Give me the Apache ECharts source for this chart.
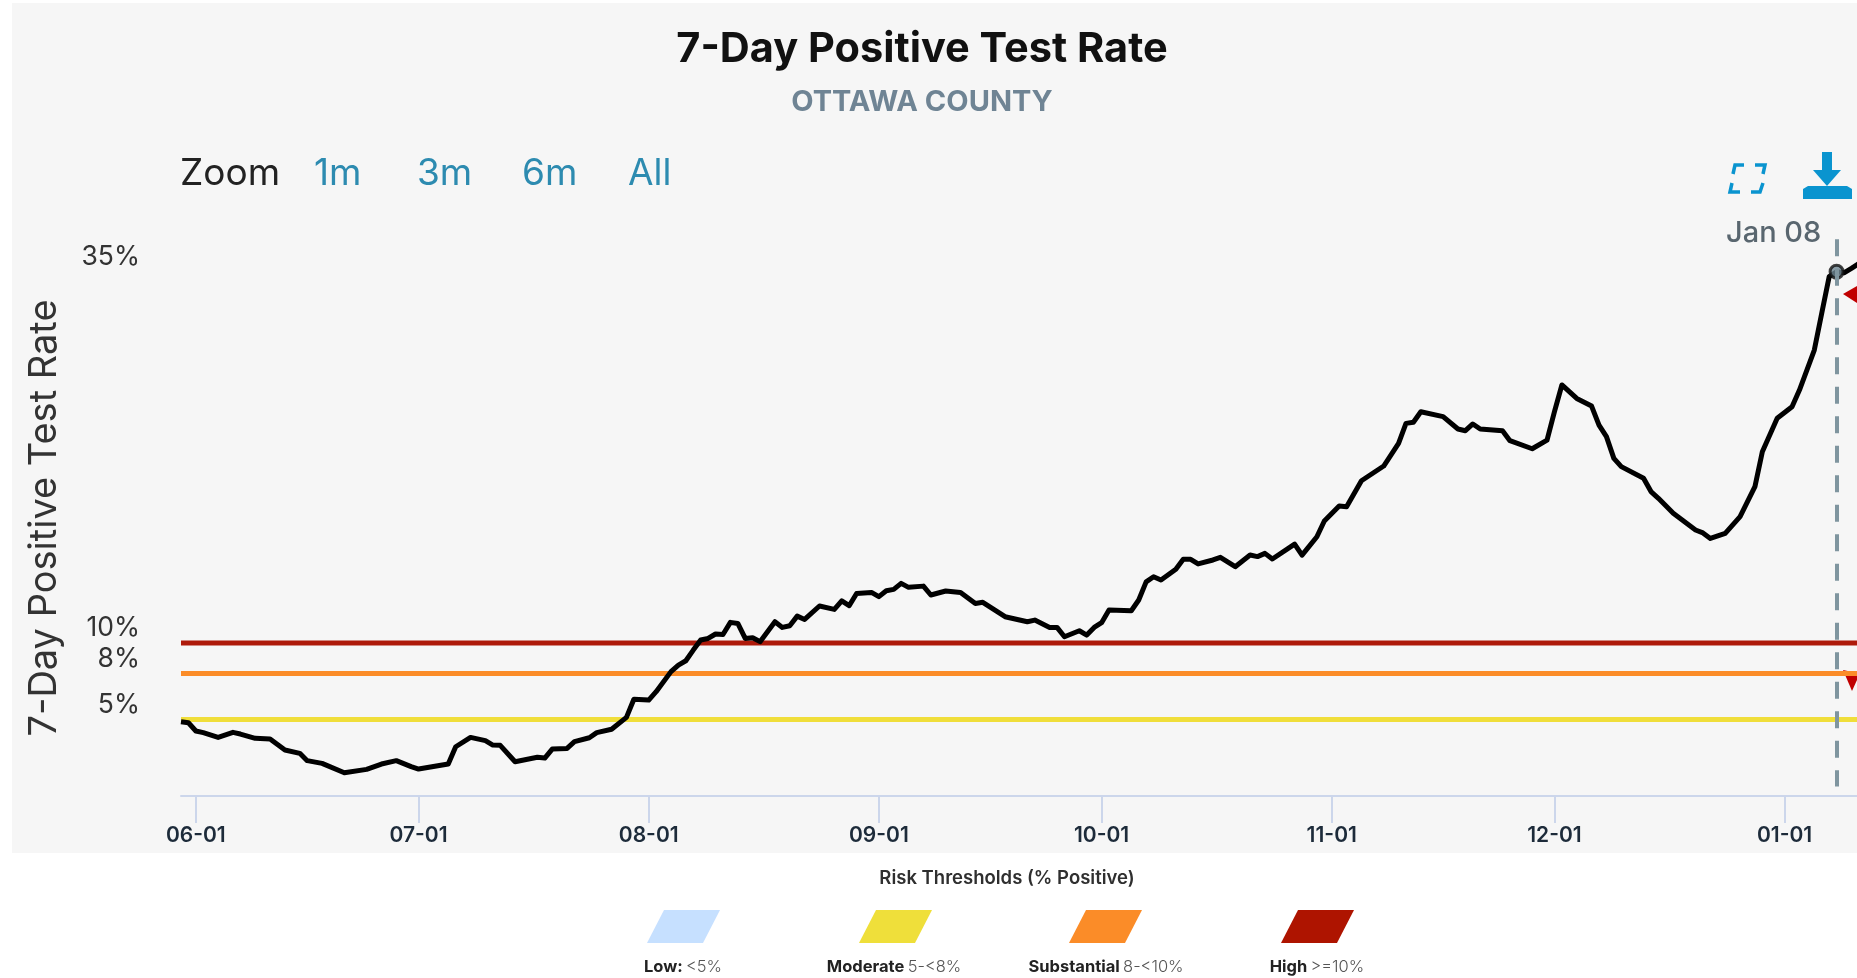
<!DOCTYPE html>
<html>
<head>
<meta charset="utf-8">
<title>7-Day Positive Test Rate</title>
<script src="https://cdn.jsdelivr.net/npm/echarts@6/dist/echarts.min.js"></script>
<style>
  html, body { margin: 0; padding: 0; background: #fff; overflow: hidden; }
  #chart { width: 1857px; height: 978px; }
</style>
</head>
<body>
<div id="chart"></div>
<script>
  const dates = [
    '2021-05-30','2021-05-31','2021-06-01','2021-06-02','2021-06-04','2021-06-06','2021-06-07','2021-06-09','2021-06-11','2021-06-13',
    '2021-06-15','2021-06-16','2021-06-18','2021-06-21','2021-06-24','2021-06-26','2021-06-28','2021-06-30','2021-07-01','2021-07-05',
    '2021-07-06','2021-07-08','2021-07-10','2021-07-11','2021-07-12','2021-07-14','2021-07-17','2021-07-18','2021-07-19','2021-07-21',
    '2021-07-22','2021-07-24','2021-07-25','2021-07-27','2021-07-29','2021-07-30','2021-08-01','2021-08-02','2021-08-04','2021-08-05',
    '2021-08-06','2021-08-07','2021-08-08','2021-08-09','2021-08-10','2021-08-11','2021-08-12','2021-08-13','2021-08-14','2021-08-15',
    '2021-08-16','2021-08-18','2021-08-19','2021-08-20','2021-08-21','2021-08-22','2021-08-24','2021-08-26','2021-08-27','2021-08-28',
    '2021-08-29','2021-08-31','2021-09-01','2021-09-02','2021-09-03','2021-09-04','2021-09-05','2021-09-07','2021-09-08','2021-09-10',
    '2021-09-12','2021-09-14','2021-09-15','2021-09-18','2021-09-21','2021-09-22','2021-09-24','2021-09-25','2021-09-26','2021-09-28',
    '2021-09-29','2021-09-30','2021-10-01','2021-10-02','2021-10-05','2021-10-06','2021-10-07','2021-10-08','2021-10-09','2021-10-11',
    '2021-10-12','2021-10-13','2021-10-14','2021-10-16','2021-10-17','2021-10-19','2021-10-21','2021-10-22','2021-10-23','2021-10-24',
    '2021-10-27','2021-10-28','2021-10-30','2021-10-31','2021-11-02','2021-11-03','2021-11-05','2021-11-08','2021-11-10','2021-11-11',
    '2021-11-12','2021-11-13','2021-11-16','2021-11-18','2021-11-19','2021-11-20','2021-11-21','2021-11-24','2021-11-25','2021-11-28',
    '2021-11-30','2021-12-01','2021-12-02','2021-12-04','2021-12-06','2021-12-07','2021-12-08','2021-12-09','2021-12-10','2021-12-13',
    '2021-12-14','2021-12-15','2021-12-17','2021-12-20','2021-12-21','2021-12-22','2021-12-24','2021-12-26','2021-12-28','2021-12-29',
    '2021-12-31','2022-01-02','2022-01-03','2022-01-05','2022-01-06','2022-01-07','2022-01-08','2022-01-09','2022-01-10','2022-01-11'
  ]
  const rates = [
    4.86,4.79,4.25,4.14,3.83,4.16,4.05,3.77,3.73,3.01,
    2.79,2.31,2.13,1.52,1.74,2.09,2.31,1.92,1.76,2.09,
    3.22,3.83,3.62,3.33,3.31,2.24,2.53,2.48,3.07,3.11,
    3.55,3.81,4.14,4.36,5.14,6.32,6.27,6.82,8.13,8.56,
    8.84,9.54,10.2,10.3,10.59,10.56,11.35,11.28,10.3,10.35,
    10.09,11.39,11.02,11.13,11.76,11.54,12.42,12.2,12.76,12.44,
    13.24,13.31,13.03,13.42,13.51,13.9,13.64,13.72,13.14,13.4,
    13.31,12.59,12.66,11.72,11.39,11.5,11.02,11.02,10.41,10.8,
    10.52,11.02,11.33,12.16,12.11,12.81,14.0,14.33,14.12,14.82,
    15.47,15.47,15.17,15.43,15.6,14.99,15.75,15.65,15.86,15.49,
    16.47,15.75,16.95,17.98,18.96,18.91,20.61,21.57,23.05,24.36,
    24.43,25.12,24.8,23.99,23.88,24.32,23.99,23.88,23.23,22.7,
    23.27,25.12,26.87,25.99,25.49,24.25,23.49,22.07,21.53,20.77,
    19.9,19.46,18.48,17.39,17.2,16.84,17.17,18.26,20.22,22.51,
    24.69,25.45,26.54,29.15,31.55,33.95,34.27,34.2,34.49,34.8
  ]
  const monthTicks = ['2021-06-01','2021-07-01','2021-08-01','2021-09-01','2021-10-01','2021-11-01','2021-12-01','2022-01-01']
  const yTicks = [5, 8, 10, 35]
  const thresholdValues = [10, 8, 5]
  const thresholdColors = ['#ae1a0a', '#fb8c28', '#f0de3a']
  const hoverDate = '2022-01-08'
  const hoverLabel = 'Jan 08'
  const zoomButtons = ['1m', '3m', '6m', 'All']
  const legendNames = ['Low:', 'Moderate', 'Substantial', 'High']
  const legendRanges = ['<5%', '5-<8%', '8-<10%', '>=10%']
  const legendColors = ['#c6e0ff', '#efdf3a', '#fb8c28', '#ae1400']

  const FONT = 'Inter, "Noto Sans", sans-serif'
  const xMin = '2021-05-30'
  const xMax = '2022-01-10T18:00:00'

  const zoomX = [314, 417, 522, 628]
  const legendX = [647, 859, 1069, 1281]
  const legendTextX = [683, 894, 1106, 1317]

  const graphics = [
    {type: 'rect', z: -10, silent: true, shape: {x: 12, y: 3, width: 1845, height: 850}, style: {fill: '#f6f6f6'}},
    {type: 'text', x: 180, y: 174, style: {text: 'Zoom', fill: '#222', font: '400 37px ' + FONT, textVerticalAlign: 'middle'}},
    {type: 'text', x: 1726, y: 233, style: {text: hoverLabel, fill: '#59666f', font: '500 29px ' + FONT, textVerticalAlign: 'middle'}},
    {type: 'text', x: 1007, y: 878, style: {text: 'Risk Thresholds (% Positive)', fill: '#2f2f2f', font: '600 18.5px ' + FONT, textAlign: 'center', textVerticalAlign: 'middle'}},
    // fullscreen corners
    {type: 'polyline', shape: {points: [[1733, 174], [1735, 165], [1744, 165]]}, style: {stroke: '#0a94cf', lineWidth: 3.5, fill: null}},
    {type: 'polyline', shape: {points: [[1755, 165], [1765, 165], [1763, 174]]}, style: {stroke: '#0a94cf', lineWidth: 3.5, fill: null}},
    {type: 'polyline', shape: {points: [[1732, 183], [1730, 192], [1740, 192]]}, style: {stroke: '#0a94cf', lineWidth: 3.5, fill: null}},
    {type: 'polyline', shape: {points: [[1751, 192], [1760, 192], [1763, 183]]}, style: {stroke: '#0a94cf', lineWidth: 3.5, fill: null}},
    // download icon
    {type: 'polygon', shape: {points: [[1803, 199], [1803, 189], [1808, 186], [1847, 186], [1852, 189], [1852, 199]]}, style: {fill: '#0a94cf'}},
    {type: 'polygon', shape: {points: [[1822, 152], [1832, 152], [1832, 170], [1841, 170], [1827, 186], [1813, 170], [1822, 170]]}, style: {fill: '#0a94cf'}},
    // red arrow heads clipped at the page edge
    {type: 'polygon', shape: {points: [[1843, 294], [1857, 286], [1857, 303]]}, style: {fill: '#c00000'}},
    {type: 'polygon', shape: {points: [[1843, 670], [1857, 673], [1857, 680], [1852, 691]]}, style: {fill: '#c00000'}}
  ]

  zoomButtons.forEach((b, i) => {
    graphics.push({type: 'text', x: zoomX[i], y: 174, style: {text: b, fill: '#2d8bb0', font: '400 37px ' + FONT, textVerticalAlign: 'middle'}})
  })
  legendNames.forEach((n, i) => {
    const x = legendX[i]
    graphics.push({type: 'polygon', shape: {points: [[x + 17, 910], [x + 73, 910], [x + 56, 943], [x, 943]]}, style: {fill: legendColors[i]}})
    graphics.push({
      type: 'text', x: legendTextX[i], y: 967,
      style: {
        text: '{b|' + n + '} {l|' + legendRanges[i] + '}',
        textAlign: 'center', textVerticalAlign: 'middle',
        rich: {
          b: {font: '700 16.5px ' + FONT, fill: '#222'},
          l: {font: '300 16.5px ' + FONT, fill: '#555'}
        }
      }
    })
  })

  const thresholdSeries = thresholdValues.map((v, i) => ({
    type: 'line',
    z: 1,
    silent: true,
    symbol: 'none',
    lineStyle: {color: thresholdColors[i], width: 5},
    data: [[xMin, v], [xMax, v]]
  }))

  const chart = echarts.init(document.getElementById('chart'))
  chart.setOption({
    animation: false,
    backgroundColor: '#fff',
    title: {
      text: '7-Day Positive Test Rate',
      subtext: 'OTTAWA COUNTY',
      left: 917,
      top: 24,
      textAlign: 'center',
      itemGap: 17,
      textStyle: {fontFamily: FONT, fontWeight: 700, fontSize: 41.5, color: '#111'},
      subtextStyle: {fontFamily: FONT, fontWeight: 700, fontSize: 29, color: '#6f8494'}
    },
    grid: {left: 181, right: 0, top: 230, bottom: 182},
    xAxis: {
      type: 'time',
      min: xMin,
      max: xMax,
      splitLine: {show: false},
      axisLine: {lineStyle: {color: '#ccd6eb', width: 2}},
      axisTick: {
        length: 27,
        lineStyle: {color: '#ccd6eb', width: 2},
        customValues: monthTicks.map(d => +new Date(d + 'T00:00:00'))
      },
      axisLabel: {
        margin: 29,
        fontFamily: FONT,
        fontSize: 21,
        fontWeight: 600,
        color: '#1d2b3a',
        formatter: '{MM}-{dd}',
        customValues: monthTicks.map(d => +new Date(d + 'T00:00:00'))
      }
    },
    yAxis: {
      type: 'value',
      min: 0,
      max: 37,
      name: '7-Day Positive Test Rate',
      nameLocation: 'middle',
      nameGap: 117,
      nameTextStyle: {fontFamily: FONT, fontSize: 38, color: '#333', padding: [0, 10, 0, 0]},
      splitLine: {show: false},
      axisLine: {show: false},
      axisTick: {show: false},
      axisLabel: {
        margin: 41,
        customValues: yTicks,
        formatter: v => (v === 35 ? '{top|' + v + '%}' : '{low|' + v + '%}'),
        rich: {
          top: {fontFamily: FONT, fontSize: 26.5, color: '#333', padding: [0, 0, 8, 0]},
          low: {fontFamily: FONT, fontSize: 26.5, color: '#333', padding: [0, 0, 29, 0]}
        }
      }
    },
    series: thresholdSeries.concat([
      {
        type: 'line',
        name: '7-Day Positive Test Rate',
        z: 3,
        symbol: 'none',
        lineStyle: {color: '#000', width: 5, join: 'round'},
        data: dates.map((d, i) => [d, rates[i]]),
        markLine: {
          silent: true,
          symbol: 'none',
          label: {show: false},
          lineStyle: {color: '#7f959f', width: 4, type: [17, 12.5]},
          data: [[{coord: [hoverDate, 36.4]}, {coord: [hoverDate, 0.62]}]]
        }
      },
      {
        type: 'scatter',
        z: 4,
        silent: true,
        symbolSize: 13,
        itemStyle: {color: '#6f8793', borderColor: '#111', borderWidth: 3},
        data: [[hoverDate, rates[dates.indexOf(hoverDate)]]]
      }
    ]),
    graphic: graphics
  })
</script>
</body>
</html>
